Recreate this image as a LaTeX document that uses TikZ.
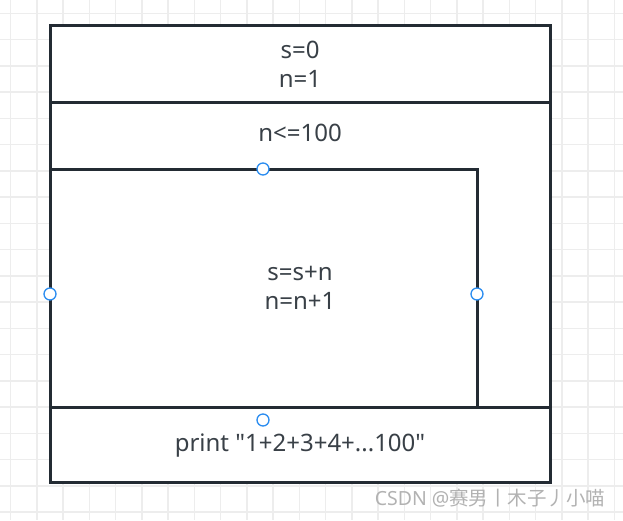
\documentclass[tikz,border=0pt]{standalone}
\usepackage{fontspec}
\setmainfont{Noto Sans}[Ligatures=TeXOff]
\newfontfamily\cjk{Noto Sans CJK SC}
\definecolor{boxline}{HTML}{232B33}
\definecolor{handle}{HTML}{2A8CF0}
\definecolor{gridline}{HTML}{EDEDED}
\begin{document}
\begin{tikzpicture}[x=1pt,y=-1pt,
    txt/.style={font=\fontsize{24}{29}\selectfont,text=boxline!90,align=center},
    pin/.style={circle,draw=handle,fill=white,line width=1.3pt,minimum size=12pt,inner sep=0pt}]
        \useasboundingbox (0,0) rectangle (623,520);
        % background grid
        \foreach \i in {0,...,23} \draw [gridline,line width=1.5pt] (10.5+26.25*\i,0) -- (10.5+26.25*\i,520);
        \foreach \j in {0,...,19} \draw [gridline,line width=1.5pt] (0,13.3+26.25*\j) -- (623,13.3+26.25*\j);
        % blocks
        \draw [boxline,line width=3pt,fill=white] (50,25) rectangle (550,482);
        \draw [boxline,line width=3pt] (50,102) -- (550,102);
        \draw [boxline,line width=3pt] (50,407) -- (550,407);
        \draw [boxline,line width=3pt] (50,169) -- (477,169) -- (477,407);
        % texts
        \path (300,64) node [txt] (init) {s=0\\n=1};
        \path (300,133) node [txt] (cond) {n<=100};
        \path (300,288) node [txt] (body) {s=s+n\\n=n+1};
        \path (300,446) node [txt] (out) {print "1+2+3+4+...100"};
        % handles
        \path (263,169) node [pin] (ptop) {};
        \path (50,294) node [pin] (pleft) {};
        \path (477,294) node [pin] (pright) {};
        \path (263,420) node [pin] (pbottom) {};
        \path (609,498) node [anchor=east,text=gray!60,font=\fontsize{19.5}{22}\selectfont] (mark) {CSDN @{\cjk 赛男丨木子丿小喵}};
    \end{tikzpicture}
\end{document}
